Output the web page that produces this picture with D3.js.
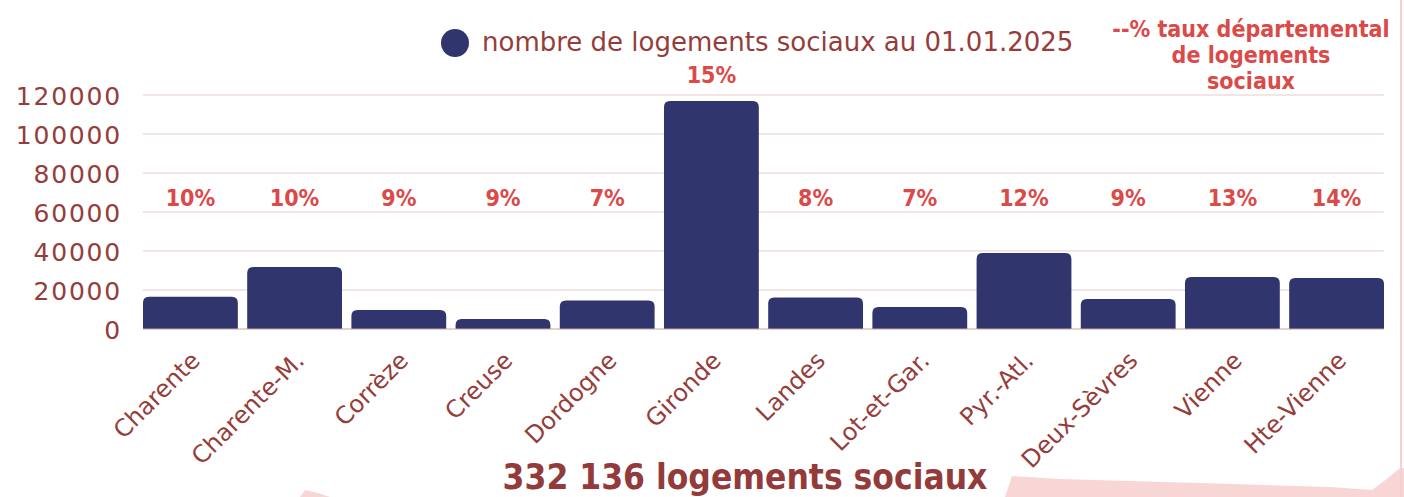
<!DOCTYPE html>
<meta charset="utf-8">
<title>Logements sociaux</title>
<style>
    body { margin: 0; background: #fff; }
    .tick text { font-family: "DejaVu Sans", sans-serif; fill: #953d3b; }
    .pct { font-family: "DejaVu Sans Condensed", "DejaVu Sans", sans-serif; font-weight: bold; fill: #da4a49; text-anchor: middle; }
</style>

<svg width="1404" height="497"></svg>
<script src="https://d3js.org/d3.v7.min.js"></script>
<script>

    // donnees
    var departements = ["Charente", "Charente-M.", "Corrèze", "Creuse", "Dordogne", "Gironde",
        "Landes", "Lot-et-Gar.", "Pyr.-Atl.", "Deux-Sèvres", "Vienne", "Hte-Vienne"];
    var logements = [16600, 31800, 9700, 5100, 14600, 116900, 16100, 11300, 39000, 15400, 26700, 26200];
    var taux = [10, 10, 9, 9, 7, 15, 8, 7, 12, 9, 13, 14];
    var yTicks = [0, 20000, 40000, 60000, 80000, 100000, 120000];

    var svg = d3.select("svg"),
        width = +svg.attr("width"),
        height = +svg.attr("height");

    var data = departements.map(function(d, i) {
        return {name: d, value: logements[i], pct: taux[i]};
    });

    // fond decoratif rose en bas
    svg.append("path")
        .attr("d", "M300,497 L305,490 L318,493 L330,497 Z M1005,497 L1012,476 L1060,479 L1200,483 L1330,487 L1372,490 L1388,478 L1400,468 L1404,468 L1404,497 Z")
        .attr("fill", "#f8d6d5");
    svg.append("line")
        .attr("x1", 1401).attr("x2", 1401).attr("y1", 0).attr("y2", height)
        .attr("stroke", "#f5d2d1").attr("stroke-width", 2);

    var x = d3.scaleBand()
        .domain(departements)
        .range([143, 1384])
        .paddingInner(0.09)
        .paddingOuter(0);

    var y = d3.scaleLinear()
        .domain([0, 120000])
        .range([329, 95]);

    // grille
    svg.append("g")
        .selectAll("line")
        .data(yTicks.slice(1))
        .enter().append("line")
            .attr("x1", 143).attr("x2", 1384)
            .attr("y1", function(d) { return y(d); })
            .attr("y2", function(d) { return y(d); })
            .attr("stroke", "#eddcdc")
            .attr("stroke-width", 1.5);

    // axe y
    var yAxis = svg.append("g")
        .attr("transform", "translate(122,0)")
        .call(d3.axisLeft(y).tickValues(yTicks).tickSize(0).tickPadding(0).tickFormat(d3.format("d")));
    yAxis.select(".domain").remove();
    yAxis.selectAll("text")
        .attr("font-size", 25)
        .attr("letter-spacing", 1.8)
        .attr("dy", "0.36em");

    // barres, coins du haut arrondis
    var r = 6;
    svg.append("g")
        .selectAll("path")
        .data(data)
        .enter().append("path")
            .attr("fill", "#31356d")
            .attr("d", function(d) {
                var x0 = x(d.name), w = x.bandwidth(), y0 = y(d.value), yb = y(0);
                return "M" + x0 + "," + yb +
                    "V" + (y0 + r) +
                    "Q" + x0 + "," + y0 + " " + (x0 + r) + "," + y0 +
                    "H" + (x0 + w - r) +
                    "Q" + (x0 + w) + "," + y0 + " " + (x0 + w) + "," + (y0 + r) +
                    "V" + yb + "Z";
            });

    // ligne de base
    svg.append("line")
        .attr("x1", 143).attr("x2", 1384)
        .attr("y1", y(0)).attr("y2", y(0))
        .attr("stroke", "#c9a3a0").attr("stroke-width", 1);

    // taux departemental
    svg.append("g")
        .selectAll("text")
        .data(data)
        .enter().append("text")
            .attr("class", "pct")
            .attr("font-size", 23)
            .attr("x", function(d) { return x(d.name) + x.bandwidth() / 2; })
            .attr("y", function(d) { return Math.min(206, y(d.value) - 18); })
            .text(function(d) { return d.pct + "%"; });

    // etiquettes x
    svg.append("g")
        .selectAll("text")
        .data(data)
        .enter().append("text")
            .attr("transform", function(d) {
                return "translate(" + (x(d.name) + x.bandwidth() / 2 + 11) + ",362) rotate(-45)";
            })
            .attr("text-anchor", "end")
            .attr("font-family", "DejaVu Sans, sans-serif")
            .attr("font-size", 24)
            .attr("fill", "#953d3b")
            .text(function(d) { return d.name; });

    // legende
    svg.append("circle")
        .attr("cx", 455).attr("cy", 43).attr("r", 14)
        .attr("fill", "#31356d");
    svg.append("text")
        .attr("x", 482).attr("y", 51)
        .attr("font-family", "DejaVu Sans, sans-serif")
        .attr("font-size", 26)
        .attr("fill", "#953d3b")
        .text("nombre de logements sociaux au 01.01.2025");

    var leg2 = ["--% taux départemental", "de logements", "sociaux"];
    svg.append("g")
        .selectAll("text")
        .data(leg2)
        .enter().append("text")
            .attr("class", "pct")
            .attr("font-size", 23)
            .attr("x", 1251)
            .attr("y", function(d, i) { return 37 + i * 26; })
            .text(function(d) { return d; });

    // total
    svg.append("text")
        .attr("x", 745).attr("y", 489)
        .attr("text-anchor", "middle")
        .attr("font-family", "DejaVu Sans Condensed, DejaVu Sans, sans-serif")
        .attr("font-weight", "bold")
        .attr("font-size", 35)
        .attr("fill", "#923b3a")
        .text("332 136 logements sociaux");

</script>
